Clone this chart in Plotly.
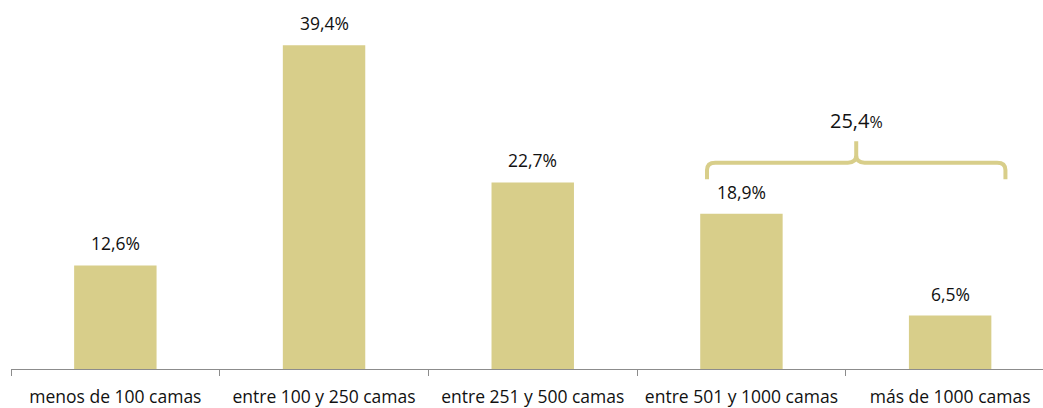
import plotly.graph_objects as go

categories = ["menos de 100 camas", "entre 100 y 250 camas", "entre 251 y 500 camas",
              "entre 501 y 1000 camas", "más de 1000 camas"]
values = [12.6, 39.4, 22.7, 18.9, 6.5]
value_labels = ["12,6%", "39,4%", "22,7%", "18,9%", "6,5%"]
group_total_label = "25,4"

bar_color = "#D8CE8A"
font_family = "'Open Sans', Lato, sans-serif"

x_pos = list(range(len(categories)))

fig = go.Figure()
fig.add_trace(go.Bar(
    x=x_pos, y=values, width=0.395,
    marker=dict(color=bar_color, line=dict(width=0)),
    hoverinfo="skip",
))

# value labels above each bar
for xi, v, lab in zip(x_pos, values, value_labels):
    fig.add_annotation(x=xi, y=v, text=lab, showarrow=False,
                       xanchor="center", yanchor="bottom", yshift=8,
                       font=dict(family=font_family, size=17.5, color="#111111"))

# curly brace grouping the two largest-size categories
x0, x1, xm = 2.835, 4.265, 3.55
y_end, y_line, y_tip = 23.1, 25.1, 27.7
rx, ry = 0.04, 0.9
brace = (
    f"M {x0},{y_end} L {x0},{y_line - ry} Q {x0},{y_line} {x0 + rx},{y_line} "
    f"L {xm - rx},{y_line} Q {xm},{y_line} {xm},{y_line + ry} L {xm},{y_tip} "
    f"M {xm},{y_line + ry} Q {xm},{y_line} {xm + rx},{y_line} "
    f"L {x1 - rx},{y_line} Q {x1},{y_line} {x1},{y_line - ry} L {x1},{y_end}"
)
fig.add_shape(type="path", path=brace, xref="x", yref="y",
              line=dict(color=bar_color, width=4))
fig.add_annotation(x=xm, y=y_tip, yshift=5, showarrow=False,
                   xanchor="center", yanchor="bottom",
                   text=f"{group_total_label}<span style='font-size:16px'>%</span>",
                   font=dict(family=font_family, size=20, color="#111111"))

boundaries = [i - 0.5 for i in range(len(categories) + 1)]

fig.update_layout(
    width=1043, height=408,
    margin=dict(l=11, r=0, t=0, b=39),
    paper_bgcolor="white", plot_bgcolor="white",
    showlegend=False,
    bargap=0.6,
    font=dict(family=font_family, size=17, color="#111111"),
    xaxis=dict(
        range=[-0.5, 4.445], tickmode="array", tickvals=x_pos, ticktext=categories,
        ticks="", showgrid=False, zeroline=False,
        showline=True, linecolor="#8c8c8c", linewidth=1,
        tickfont=dict(family=font_family, size=17.5, color="#111111"),
        ticklabelstandoff=12,
        minor=dict(tickmode="array", tickvals=boundaries, ticks="outside",
                   ticklen=6, tickcolor="#8c8c8c", tickwidth=1, showgrid=False),
        fixedrange=True,
    ),
    yaxis=dict(range=[0, 44.9], visible=False, fixedrange=True),
)

fig.write_html("out.html", config={"displayModeBar": False})
